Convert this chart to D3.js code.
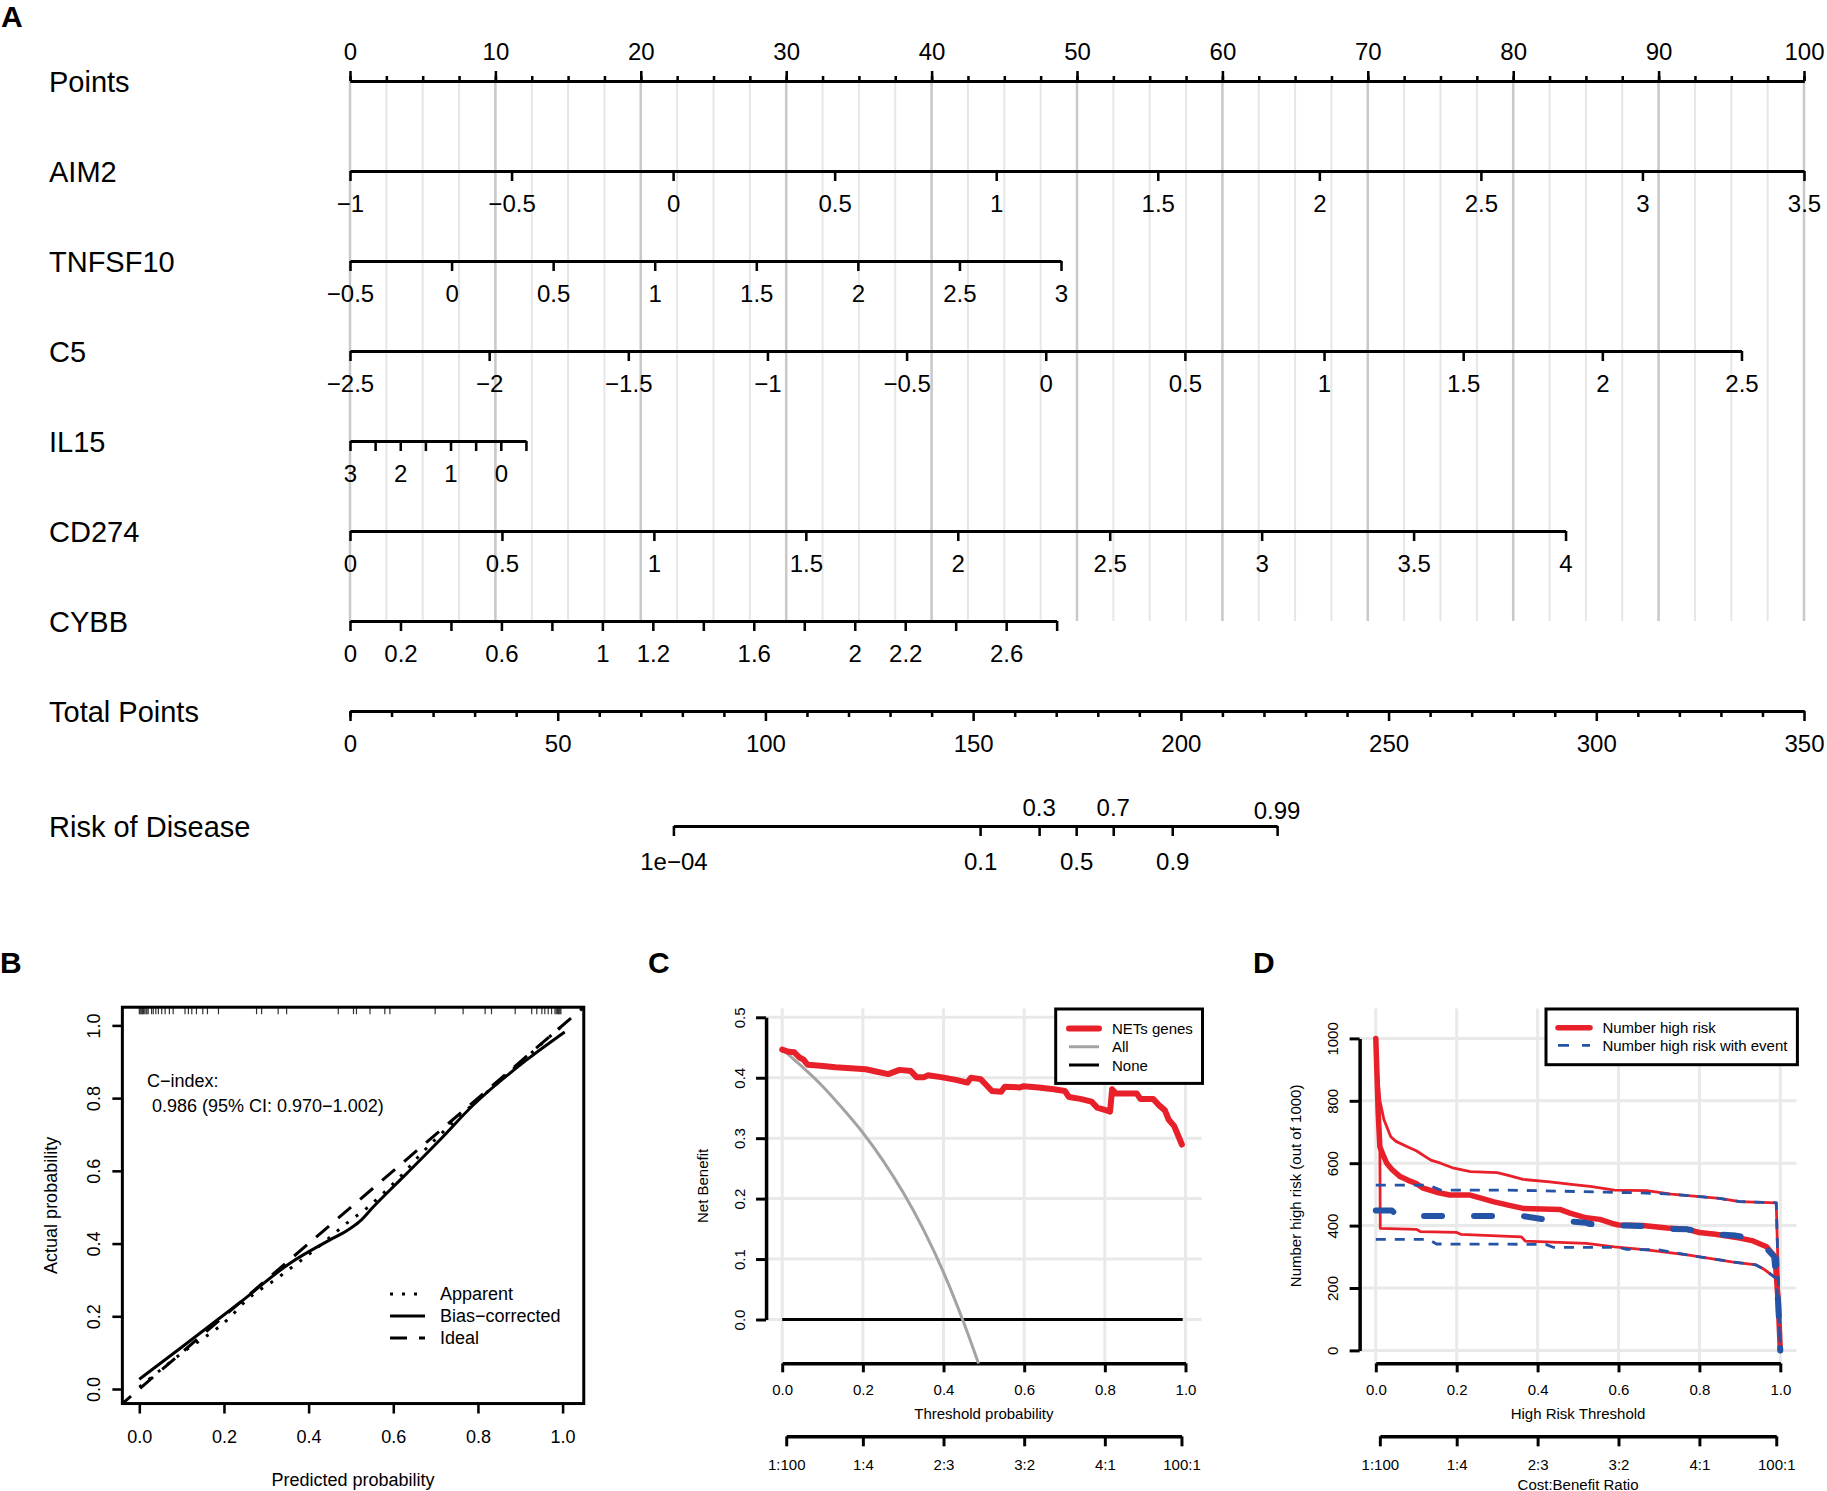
<!DOCTYPE html>
<html>
<head>
<meta charset="utf-8">
<title>NETs genes nomogram</title>
<script src="https://cdnjs.cloudflare.com/ajax/libs/d3/7.8.5/d3.min.js"></script>
<style>
body
{
  margin: 0;
  background: #fff;
}
svg text
{
  fill: #000;
}
</style>
</head>
<body>
<div id="chart"></div>
<script>
// ---- A: nomogram ----
var pointsTicks = [0, 10, 20, 30, 40, 50, 60, 70, 80, 90, 100];
var varNames = ["AIM2", "TNFSF10", "C5", "IL15", "CD274", "CYBB"];
var varDomains = [[-1, 3.5], [-0.5, 3], [-2.5, 2.5], [3, -0.5], [0, 4], [0, 2.8]];
var varMaxPoints = [100, 48.9, 95.7, 12.1, 83.6, 48.6];
var varTicks = [
  [-1, -0.5, 0, 0.5, 1, 1.5, 2, 2.5, 3, 3.5],
  [-0.5, 0, 0.5, 1, 1.5, 2, 2.5, 3],
  [-2.5, -2, -1.5, -1, -0.5, 0, 0.5, 1, 1.5, 2, 2.5],
  [3, 2.5, 2, 1.5, 1, 0.5, 0, -0.5],
  [0, 0.5, 1, 1.5, 2, 2.5, 3, 3.5, 4],
  [0, 0.2, 0.4, 0.6, 0.8, 1, 1.2, 1.4, 1.6, 1.8, 2, 2.2, 2.4, 2.6, 2.8]
];
var varLabels = [
  [-1, -0.5, 0, 0.5, 1, 1.5, 2, 2.5, 3, 3.5],
  [-0.5, 0, 0.5, 1, 1.5, 2, 2.5, 3],
  [-2.5, -2, -1.5, -1, -0.5, 0, 0.5, 1, 1.5, 2, 2.5],
  [3, 2, 1, 0],
  [0, 0.5, 1, 1.5, 2, 2.5, 3, 3.5, 4],
  [0, 0.2, 0.6, 1, 1.2, 1.6, 2, 2.2, 2.6]
];
var totalTicks = [0, 50, 100, 150, 200, 250, 300, 350];
var totalMinorTicks = [0, 10, 20, 30, 40, 60, 70, 80, 90, 110, 120, 130, 140, 160, 170, 180, 190,
  210, 220, 230, 240, 260, 270, 280, 290, 310, 320, 330, 340];
var riskTicks = [0.0001, 0.1, 0.3, 0.5, 0.7, 0.9, 0.99];
var riskLabelsBelow = [0.0001, 0.1, 0.5, 0.9];
var riskLabelsAbove = [0.3, 0.7, 0.99];
var riskMidPoints = 174.8;   // total points where risk = 0.5
var riskSlope = 0.095;       // logit change per total point

// ---- B: calibration ----
var calibTicks = [0, 0.2, 0.4, 0.6, 0.8, 1.0];
var apparentX = [0.0, 0.094, 0.213, 0.254, 0.325, 0.443, 0.49, 0.537, 0.576, 0.624, 0.663, 0.71, 0.773, 0.85, 0.92, 1.0];
var apparentY = [0.005, 0.093, 0.196, 0.245, 0.304, 0.41, 0.456, 0.497, 0.538, 0.593, 0.6435, 0.6985, 0.767, 0.845, 0.918, 1.0];
var biasX = [0, 0.1, 0.238, 0.356, 0.4505, 0.49, 0.52, 0.553, 0.632, 0.71, 0.789, 0.915, 1.005];
var biasY = [0.027, 0.115, 0.238, 0.346, 0.41, 0.435, 0.46, 0.501, 0.593, 0.685, 0.781, 0.905, 0.982];
var idealX = [-0.05, 1.06];
var idealY = [-0.05, 1.06];
var rugValues = [0.0, 0.002, 0.004, 0.006, 0.008, 0.01, 0.013, 0.016, 0.018, 0.021, 0.029, 0.033, 0.039,
  0.045, 0.053, 0.061, 0.071, 0.08, 0.108, 0.116, 0.124, 0.135, 0.15, 0.161, 0.187, 0.277, 0.289,
  0.328, 0.348, 0.47, 0.506, 0.513, 0.545, 0.58, 0.592, 0.699, 0.765, 0.817, 0.832, 0.888, 0.927,
  0.939, 0.951, 0.958, 0.966, 0.974, 0.982, 0.985, 0.988, 0.99, 0.992, 0.994, 0.996];
var cIndexLines = ["C\u2212index:", "0.986 (95% CI: 0.970\u22121.002)"];
var calibLegend = ["Apparent", "Bias\u2212corrected", "Ideal"];

// ---- C: decision curve ----
var thresholdTicks = [0, 0.2, 0.4, 0.6, 0.8, 1.0];
var costTicks = [0.01, 0.2, 0.4, 0.6, 0.8, 0.99];
var costLabels = ["1:100", "1:4", "2:3", "3:2", "4:1", "100:1"];
var netTicks = [0, 0.1, 0.2, 0.3, 0.4, 0.5];
var netsThreshold = [0, 0.016, 0.03, 0.044, 0.053, 0.063, 0.095, 0.132, 0.17, 0.207, 0.235, 0.263,
  0.291, 0.319, 0.333, 0.352, 0.361, 0.394, 0.431, 0.459, 0.468, 0.492, 0.506, 0.52,
  0.543, 0.552, 0.59, 0.599, 0.636, 0.673, 0.701, 0.711, 0.739, 0.767, 0.781, 0.804,
  0.813, 0.818, 0.827, 0.879, 0.888, 0.92, 0.934, 0.949, 0.958, 0.972, 0.991];
var netsBenefit = [0.4465, 0.443, 0.442, 0.433, 0.43, 0.4215, 0.42, 0.4175, 0.4157, 0.414, 0.41, 0.406,
  0.413, 0.411, 0.401, 0.401, 0.404, 0.401, 0.3965, 0.392, 0.4, 0.3977, 0.388, 0.378,
  0.377, 0.385, 0.384, 0.386, 0.384, 0.381, 0.378, 0.368, 0.365, 0.3605, 0.3506, 0.346,
  0.344, 0.381, 0.374, 0.374, 0.365, 0.365, 0.3547, 0.346, 0.331, 0.32, 0.2895];
var allThreshold = [0, 0.05, 0.1, 0.15, 0.2, 0.25, 0.3, 0.35, 0.4, 0.45, 0.487];
var allBenefit = [0.447, 0.418, 0.386, 0.349, 0.309, 0.263, 0.21, 0.149, 0.078, -0.005, -0.073];
var noneThreshold = [0, 0.993];
var noneBenefit = [0, 0];
var dcaLegend = ["NETs genes", "All", "None"];

// ---- D: clinical impact ----
var impactTicks = [0, 200, 400, 600, 800, 1000];
var highRiskX = [0, 0.003, 0.006, 0.01, 0.02, 0.027, 0.04, 0.06, 0.08, 0.1, 0.117, 0.15, 0.183, 0.233,
  0.26, 0.29, 0.33, 0.364, 0.455, 0.48, 0.52, 0.554, 0.59, 0.6, 0.66, 0.72, 0.77, 0.8, 0.84,
  0.9, 0.93, 0.966, 0.987, 0.995, 1.0];
var highRiskY = [1000, 880, 760, 653, 620, 600, 580, 557, 545, 535, 520, 507, 498, 498,
  488, 477, 465, 455, 452, 440, 425, 420, 405, 402, 400, 392, 388, 378, 372,
  360, 352, 332, 300, 150, 0];
var upperRiskX = [0, 0.005, 0.01, 0.02, 0.037, 0.05, 0.078, 0.1, 0.136, 0.16, 0.193, 0.234, 0.3, 0.33,
  0.364, 0.43, 0.5, 0.53, 0.59, 0.67, 0.73, 0.85, 0.9, 0.99, 1.0];
var upperRiskY = [1000, 880, 802, 740, 685, 670, 653, 640, 610, 600, 584, 573, 570, 560,
  548, 540, 530, 526, 514, 512, 501, 487, 477, 473, 0];
var lowerRiskX = [0, 0.006, 0.01, 0.011, 0.1, 0.11, 0.2, 0.21, 0.36, 0.37, 0.52, 0.59, 0.67, 0.77,
  0.88, 0.94, 0.96, 0.99, 1.0];
var lowerRiskY = [1000, 760, 650, 391, 388, 381, 378, 372, 364, 350, 343, 332, 322, 306,
  284, 274, 260, 231, 0];
var eventX = [0, 0.04, 0.05, 0.06, 0.36, 0.41, 0.47, 0.52, 0.53, 0.6, 0.655, 0.72, 0.77, 0.84, 0.89,
  0.93, 0.96, 0.985, 0.995, 1.0];
var eventY = [448, 448, 436, 431, 431, 421, 415, 409, 405, 401, 399, 390, 388, 372, 368,
  358, 335, 300, 150, 0];
var upperEventX = [0, 0.13, 0.16, 0.3, 0.4, 0.57, 0.65, 0.73, 0.85, 0.9, 0.99, 1.0];
var upperEventY = [530, 530, 514, 514, 512, 507, 505, 501, 487, 477, 473, 0];
var lowerEventX = [0, 0.13, 0.15, 0.42, 0.44, 0.6, 0.62, 0.7, 0.77, 0.88, 0.94, 0.96, 0.99, 1.0];
var lowerEventY = [356, 356, 341, 340, 330, 330, 324, 322, 306, 284, 274, 260, 231, 0];
var impactLegend = ["Number high risk", "Number high risk with event"];

var RED = "#e8202a", BLUE = "#2553a5", GRID = "#e9e9e9";

function fmt(v) {
  return String(v).replace("-", "\u2212");
}

function zip(xs, ys) {
  return xs.map(function (x, i) { return [x, ys[i]]; });
}

var svg = d3.select("#chart").append("svg")
  .attr("width", 1827).attr("height", 1491)
  .attr("font-family", "'Liberation Sans', Arial, Helvetica, sans-serif");

function styleAxis(g, size, lw) {
  g.attr("font-family", null).attr("font-size", size);
  g.select(".domain").attr("stroke-width", lw);
  g.selectAll(".tick line").attr("stroke-width", lw * 0.85);
}

function panelLetter(t, x, y) {
  svg.append("text").attr("x", x).attr("y", y)
    .attr("font-size", 30).attr("font-weight", "bold").text(t);
}

// rotate tick labels of a left axis so they read upwards, centred at dx from the axis
function rotateLeftLabels(g, dx) {
  g.selectAll(".tick text").attr("x", 0).attr("y", 0).attr("dy", null)
    .attr("text-anchor", "middle").attr("dominant-baseline", "central")
    .attr("transform", "translate(" + dx + ",0) rotate(-90)");
}

// ================= A =================
panelLetter("A", 1, 27);
var pointsX = d3.scaleLinear().domain([0, 100]).range([350, 1804]);
var totalX = d3.scaleLinear().domain([0, 350]).range([350, 1804]);
var rowY = function (i) { return 81 + 90 * i; };
var riskY = 826;

var A = svg.append("g");
var grid = A.append("g");
grid.selectAll("line.minor").data(d3.range(0, 100.01, 2.5)).enter().append("line")
  .attr("x1", pointsX).attr("x2", pointsX).attr("y1", rowY(0)).attr("y2", rowY(6))
  .attr("stroke", "#e6e6e6").attr("stroke-width", 2);
grid.selectAll("line.major").data(pointsTicks).enter().append("line")
  .attr("x1", pointsX).attr("x2", pointsX).attr("y1", rowY(0)).attr("y2", rowY(6))
  .attr("stroke", "#c9c9c9").attr("stroke-width", 2.5);

var rowLabels = ["Points"].concat(varNames).concat(["Total Points"]);
A.selectAll("text.row").data(rowLabels).enter().append("text")
  .attr("x", 49).attr("y", function (d, i) { return rowY(i) + 1; })
  .attr("dominant-baseline", "central").attr("font-size", 29).text(function (d) { return d; });
A.append("text").attr("x", 49).attr("y", riskY + 1).attr("dominant-baseline", "central")
  .attr("font-size", 29).text("Risk of Disease");

// Points axis
var gp = A.append("g").attr("transform", "translate(0," + rowY(0) + ")")
  .call(d3.axisTop(pointsX).tickValues(pointsTicks).tickSize(10).tickSizeOuter(0).tickPadding(11));
styleAxis(gp, 24, 3);
var gpm = A.append("g").attr("transform", "translate(0," + rowY(0) + ")")
  .call(d3.axisTop(pointsX).tickValues(d3.range(0, 100.01, 2.5)).tickSize(5).tickSizeOuter(0).tickFormat(""));
styleAxis(gpm, 24, 3);

// variable axes
varNames.forEach(function (name, k) {
  var sc = d3.scaleLinear().domain(varDomains[k])
    .range([pointsX(0), pointsX(varMaxPoints[k])]);
  var labels = varLabels[k];
  var g = A.append("g").attr("transform", "translate(0," + rowY(k + 1) + ")")
    .call(d3.axisBottom(sc).tickValues(varTicks[k]).tickSize(10).tickSizeOuter(0).tickPadding(14)
      .tickFormat(function (v) { return labels.indexOf(v) >= 0 ? fmt(v) : ""; }));
  styleAxis(g, 24, 3);
});

// total points
var gt = A.append("g").attr("transform", "translate(0," + rowY(7) + ")")
  .call(d3.axisBottom(totalX).tickValues(totalTicks).tickSize(10).tickSizeOuter(0).tickPadding(14));
styleAxis(gt, 24, 3);
var gtm = A.append("g").attr("transform", "translate(0," + rowY(7) + ")")
  .call(d3.axisBottom(totalX).tickValues(totalMinorTicks).tickSize(6).tickSizeOuter(0).tickFormat(""));
styleAxis(gtm, 24, 3);

// risk of disease: logistic link mapped onto the total points scale
function riskToX(p) {
  return totalX(riskMidPoints + Math.log(p / (1 - p)) / riskSlope);
}
var riskScale = function (p) { return riskToX(p); };
riskScale.range = function () { return [riskToX(riskTicks[0]), riskToX(riskTicks[riskTicks.length - 1])]; };
riskScale.copy = function () { return riskScale; };
function riskFmt(p) { return p === 0.0001 ? "1e\u221204" : String(p); }
var gr = A.append("g").attr("transform", "translate(0," + riskY + ")")
  .call(d3.axisBottom(riskScale).tickValues(riskTicks).tickSize(10).tickSizeOuter(0).tickPadding(17)
    .tickFormat(function (p) { return riskLabelsBelow.indexOf(p) >= 0 ? riskFmt(p) : ""; }));
styleAxis(gr, 24, 3);
A.selectAll("text.riskup").data(riskLabelsAbove).enter().append("text")
  .attr("x", riskToX).attr("y", function (p) { return riskY - (p === 0.99 ? 16 : 19); })
  .attr("text-anchor", "middle").attr("dominant-baseline", "central").attr("font-size", 24)
  .text(riskFmt);

// ================= B =================
panelLetter("B", 0, 973);
var bX = d3.scaleLinear().domain([0, 1]).range([139.3, 562.6]);
var bY = d3.scaleLinear().domain([0, 1]).range([1389, 1025.4]);
var bL = bX(-0.04), bR = bX(1.05), bT = bY(1.05), bB = bY(-0.04);
var B = svg.append("g");
B.append("clipPath").attr("id", "clipB").append("rect")
  .attr("x", bL).attr("y", bT).attr("width", bR - bL).attr("height", bB - bT);

var bLine = d3.line().x(function (d) { return bX(d[0]); }).y(function (d) { return bY(d[1]); });
var bCurves = B.append("g").attr("clip-path", "url(#clipB)");
bCurves.append("path").datum(zip(idealX, idealY)).attr("d", bLine)
  .attr("fill", "none").attr("stroke", "#000").attr("stroke-width", 3).attr("stroke-dasharray", "17,12");
bCurves.append("path").datum(zip(apparentX, apparentY)).attr("d", bLine.curve(d3.curveMonotoneX))
  .attr("fill", "none").attr("stroke", "#000").attr("stroke-width", 3).attr("stroke-dasharray", "3,9");
bCurves.append("path").datum(zip(biasX, biasY)).attr("d", bLine.curve(d3.curveMonotoneX))
  .attr("fill", "none").attr("stroke", "#000").attr("stroke-width", 3);

B.selectAll("line.rug").data(rugValues).enter().append("line")
  .attr("x1", bX).attr("x2", bX).attr("y1", bT).attr("y2", bT + 7)
  .attr("stroke", "#333").attr("stroke-width", 1.2);

B.append("rect").attr("x", bL).attr("y", bT).attr("width", bR - bL).attr("height", bB - bT)
  .attr("fill", "none").attr("stroke", "#000").attr("stroke-width", 3);

var gbx = B.append("g").attr("transform", "translate(0," + bB + ")")
  .call(d3.axisBottom(bX).tickValues(calibTicks).tickSize(10).tickPadding(17).tickFormat(d3.format(".1f")));
styleAxis(gbx, 18, 3);
gbx.select(".domain").remove();
var gby = B.append("g").attr("transform", "translate(" + bL + ",0)")
  .call(d3.axisLeft(bY).tickValues(calibTicks).tickSize(10).tickFormat(d3.format(".1f")));
styleAxis(gby, 18, 3);
gby.select(".domain").remove();
rotateLeftLabels(gby, -28);

B.append("text").attr("x", (bL + bR) / 2).attr("y", 1480).attr("text-anchor", "middle")
  .attr("dominant-baseline", "central").attr("font-size", 18).text("Predicted probability");
B.append("text").attr("transform", "translate(51," + (bT + bB) / 2 + ") rotate(-90)")
  .attr("text-anchor", "middle").attr("dominant-baseline", "central").attr("font-size", 18)
  .text("Actual probability");
B.append("text").attr("x", 147).attr("y", 1081).attr("dominant-baseline", "central")
  .attr("font-size", 18).text(cIndexLines[0]);
B.append("text").attr("x", 152).attr("y", 1106).attr("dominant-baseline", "central")
  .attr("font-size", 18).text(cIndexLines[1]);

var bLegDash = ["3,9", null, "17,12"];
var bLegY = d3.scalePoint().domain(calibLegend).range([1294, 1338]);
calibLegend.forEach(function (t, i) {
  B.append("line").attr("x1", 390).attr("x2", 425).attr("y1", bLegY(t)).attr("y2", bLegY(t))
    .attr("stroke", "#000").attr("stroke-width", 3).attr("stroke-dasharray", bLegDash[i]);
  B.append("text").attr("x", 440).attr("y", bLegY(t)).attr("dominant-baseline", "central")
    .attr("font-size", 18).text(t);
});

// ============ shared for C and D ============
function decisionFrame(g, x, y, yTicks, xlim, ylim, yLabel, xLabel, showCost, yFmt) {
  var L = x(xlim[0]), R = x(xlim[1]), T = y(ylim[1]), Bt = y(ylim[0]);
  var gr = g.append("g");
  gr.selectAll("line.v").data(thresholdTicks).enter().append("line")
    .attr("x1", x).attr("x2", x).attr("y1", T).attr("y2", Bt)
    .attr("stroke", GRID).attr("stroke-width", 3);
  gr.selectAll("line.h").data(yTicks).enter().append("line")
    .attr("x1", L).attr("x2", R).attr("y1", y).attr("y2", y)
    .attr("stroke", GRID).attr("stroke-width", 3);

  var gy = g.append("g").attr("transform", "translate(" + L + ",0)")
    .call(d3.axisLeft(y).tickValues(yTicks).tickSize(10).tickSizeOuter(0).tickFormat(yFmt));
  styleAxis(gy, 15, 3.5);
  rotateLeftLabels(gy, -27);

  var gx = g.append("g").attr("transform", "translate(0," + Bt + ")")
    .call(d3.axisBottom(x).tickValues(thresholdTicks).tickSize(9).tickSizeOuter(0).tickPadding(12)
      .tickFormat(d3.format(".1f")));
  styleAxis(gx, 15, 3.5);

  var cost = d3.scaleLinear().domain([0.01, 0.99]).range([x(0.01), x(0.99)]);
  var gc = g.append("g").attr("transform", "translate(0," + (Bt + 73) + ")")
    .call(d3.axisBottom(cost).tickValues(costTicks).tickSize(10).tickSizeOuter(0).tickPadding(13)
      .tickFormat(function (d, i) { return costLabels[i]; }));
  styleAxis(gc, 15, 3.5);

  g.append("text").attr("x", (x(0) + x(1)) / 2).attr("y", Bt + 50).attr("text-anchor", "middle")
    .attr("dominant-baseline", "central").attr("font-size", 15).text(xLabel);
  if (showCost) {
    g.append("text").attr("x", (x(0) + x(1)) / 2).attr("y", Bt + 121).attr("text-anchor", "middle")
      .attr("dominant-baseline", "central").attr("font-size", 15).text("Cost:Benefit Ratio");
  }
  g.append("text").attr("transform", "translate(" + (L - 64) + "," + (T + Bt) / 2 + ") rotate(-90)")
    .attr("text-anchor", "middle").attr("dominant-baseline", "central").attr("font-size", 15)
    .text(yLabel);
  return { L: L, R: R, T: T, B: Bt };
}

// ================= C =================
panelLetter("C", 648, 973);
var cX = d3.scaleLinear().domain([0, 1]).range([782.2, 1185.5]);
var cY = d3.scaleLinear().domain([0, 0.5]).range([1319.5, 1017.3]);
var C = svg.append("g");
var cf = decisionFrame(C, cX, cY, netTicks, [-0.04, 1.04], [-0.0725, 0.5145],
  "Net Benefit", "Threshold probability", false, d3.format(".1f"));
C.append("clipPath").attr("id", "clipC").append("rect")
  .attr("x", cf.L).attr("y", cf.T).attr("width", cf.R - cf.L).attr("height", cf.B - cf.T + 3);
var cLine = d3.line().x(function (d) { return cX(d[0]); }).y(function (d) { return cY(d[1]); });
var cCurves = C.append("g").attr("clip-path", "url(#clipC)");
cCurves.append("path").datum(zip(noneThreshold, noneBenefit)).attr("d", cLine)
  .attr("fill", "none").attr("stroke", "#000").attr("stroke-width", 3);
cCurves.append("path").datum(zip(allThreshold, allBenefit)).attr("d", cLine.curve(d3.curveMonotoneX))
  .attr("fill", "none").attr("stroke", "#a3a3a3").attr("stroke-width", 3);
cCurves.append("path").datum(zip(netsThreshold, netsBenefit)).attr("d", cLine.curve(d3.curveLinear))
  .attr("fill", "none").attr("stroke", RED).attr("stroke-width", 6)
  .attr("stroke-linejoin", "round").attr("stroke-linecap", "round");

var cLeg = C.append("g");
cLeg.append("rect").attr("x", 1055.7).attr("y", 1009).attr("width", 146.8).attr("height", 74.4)
  .attr("fill", "#fff").attr("stroke", "#000").attr("stroke-width", 3);
var cLegY = d3.scalePoint().domain(dcaLegend).range([1028.5, 1065]);
var cLegStyle = [[RED, 6], ["#a3a3a3", 3], ["#000", 3]];
dcaLegend.forEach(function (t, i) {
  cLeg.append("line").attr("x1", 1069).attr("x2", 1099).attr("y1", cLegY(t)).attr("y2", cLegY(t))
    .attr("stroke", cLegStyle[i][0]).attr("stroke-width", cLegStyle[i][1])
    .attr("stroke-linecap", i === 0 ? "round" : "butt");
  cLeg.append("text").attr("x", 1112).attr("y", cLegY(t)).attr("dominant-baseline", "central")
    .attr("font-size", 15).text(t);
});

// ================= D =================
panelLetter("D", 1253, 973);
var dX = d3.scaleLinear().domain([0, 1]).range([1375.8, 1780.3]);
var dY = d3.scaleLinear().domain([0, 1000]).range([1350.4, 1038.4]);
var D = svg.append("g");
var df = decisionFrame(D, dX, dY, impactTicks, [-0.04, 1.04], [-41.5, 1096],
  "Number high risk (out of 1000)", "High Risk Threshold", true, d3.format("d"));
var dLine = d3.line().x(function (d) { return dX(d[0]); }).y(function (d) { return dY(d[1]); });
var dCurves = D.append("g");
function dPath(xs, ys, color, w, dash, cap) {
  dCurves.append("path").datum(zip(xs, ys)).attr("d", dLine)
    .attr("fill", "none").attr("stroke", color).attr("stroke-width", w)
    .attr("stroke-dasharray", dash).attr("stroke-linejoin", "round")
    .attr("stroke-linecap", cap || "butt");
}
dPath(highRiskX, highRiskY, RED, 5.5, null, "round");
dPath(upperRiskX, upperRiskY, RED, 2.8, null);
dPath(lowerRiskX, lowerRiskY, RED, 2.8, null);
dPath(eventX, eventY, BLUE, 6, "18,32", "round");
dPath(upperEventX, upperEventY, BLUE, 2.8, "10,9");
dPath(lowerEventX, lowerEventY, BLUE, 2.8, "10,9");

var dLeg = D.append("g");
dLeg.append("rect").attr("x", 1546).attr("y", 1009).attr("width", 251.4).attr("height", 55.7)
  .attr("fill", "#fff").attr("stroke", "#000").attr("stroke-width", 3);
var dLegY = d3.scalePoint().domain(impactLegend).range([1027.8, 1045.4]);
var dLegStyle = [[RED, 5.5, null], [BLUE, 2.8, "11,13"]];
impactLegend.forEach(function (t, i) {
  dLeg.append("line").attr("x1", 1558).attr("x2", 1590).attr("y1", dLegY(t)).attr("y2", dLegY(t))
    .attr("stroke", dLegStyle[i][0]).attr("stroke-width", dLegStyle[i][1])
    .attr("stroke-dasharray", dLegStyle[i][2]).attr("stroke-linecap", i === 0 ? "round" : "butt");
  dLeg.append("text").attr("x", 1602.4).attr("y", dLegY(t)).attr("dominant-baseline", "central")
    .attr("font-size", 15).text(t);
});
</script>
</body>
</html>
